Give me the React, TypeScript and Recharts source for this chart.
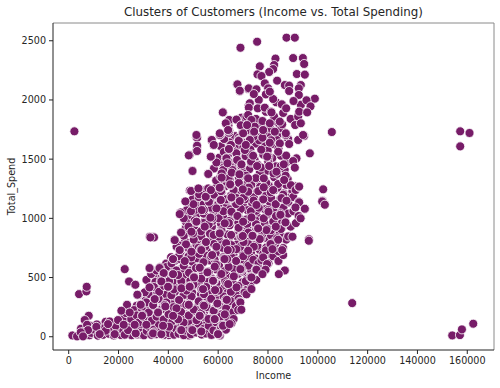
import React from "react";
import { ScatterChart, Scatter, XAxis, YAxis, ZAxis, ReferenceLine } from "recharts";

type P = [number, number];

const xTicks = [0, 20000, 40000, 60000, 80000, 100000, 120000, 140000, 160000];
const yTicks = [0, 500, 1000, 1500, 2000, 2500];

const coreA: P[] = [[63200,1712],[66700,1695],[69800,1726],[73400,1704],[76900,1688],[80300,1718],[83800,1697],[61100,1608],[64600,1642],[68100,1615],[71700,1598],[75200,1631],[78800,1609],[82400,1627],[60400,1512],[63900,1534],[67500,1503],[71000,1526],[74600,1497],[78100,1538],[81700,1508],[85200,1529],[58300,1421],[61800,1448],[65400,1409],[68900,1433],[72500,1415],[76000,1452],[79600,1402],[83100,1439],[86700,1411],[61200,1295],[64700,1322],[68300,1344],[71800,1303],[75400,1328],[78900,1291],[82500,1347],[86000,1309],[87900,1333],[50800,1207],[54300,1236],[57900,1198],[61400,1221],[65000,1189],[68500,1242],[72100,1204],[75600,1226],[79200,1193],[82700,1238],[86300,1211],[89800,1229],[48900,1108],[52400,1131],[56000,1094],[59500,1127],[63100,1102],[66600,1136],[70200,1097],[73700,1124],[77300,1089],[80800,1133],[84400,1106],[87900,1129]];
const coreB: P[] = [[47800,1012],[51300,1033],[54900,996],[58400,1027],[62000,1008],[65500,1039],[69100,991],[72600,1021],[76200,1003],[79700,1036],[83300,994],[86800,1018],[46900,914],[50400,936],[54000,897],[57500,929],[61100,908],[64600,941],[68200,893],[71700,923],[75300,905],[78800,938],[82400,899],[85900,927],[46700,808],[50200,832],[53800,796],[57300,823],[60900,803],[64400,837],[68000,791],[71500,819],[75100,806],[78600,834],[82200,797],[84500,825],[44800,712],[48300,736],[51900,699],[55400,727],[59000,705],[62500,739],[66100,694],[69600,723],[73200,708],[76700,733],[79400,698],[39100,618],[42600,641],[46200,603],[49700,632],[53300,609],[56800,644],[60400,597],[63900,628],[67500,613],[71000,638],[74600,601],[36200,509],[39700,533],[43300,496],[46800,524],[50400,503],[53900,537],[57500,491],[61000,519],[64600,507],[68100,531],[71700,494],[73400,522]];
const coreC: P[] = [[33800,412],[37300,436],[40900,398],[44400,427],[48000,404],[51500,439],[55100,393],[58600,421],[62200,409],[65700,433],[69300,396],[71800,424],[30900,308],[34400,331],[38000,295],[41500,322],[45100,301],[48600,336],[52200,291],[55700,318],[59300,306],[62800,329],[66400,293],[67900,321],[25800,204],[29300,227],[32900,191],[36400,218],[40000,198],[43500,232],[47100,187],[50600,214],[54200,203],[57700,226],[61300,189],[64800,217],[11300,104],[14800,126],[18400,91],[21900,118],[25500,97],[29000,131],[32600,86],[36100,113],[39700,102],[43200,124],[46800,88],[50300,116],[53900,99],[57400,127],[61000,93],[62300,112],[4900,68],[8600,92],[12300,54],[15900,83],[19600,62],[24200,44],[28700,81],[33200,53],[38900,59],[42700,38],[47600,82],[51700,49],[55900,63],[59600,77]];
const coreD: P[] = [[64100,1785],[70800,1808],[74100,1778],[77400,1795],[80900,1759],[84300,1801],[62400,1670],[65900,1574],[69400,1647],[72900,1581],[76400,1659],[79900,1573],[83500,1662],[59300,1472],[62700,1382],[66200,1465],[69700,1389],[73200,1471],[76700,1383],[80200,1462],[83700,1376],[87200,1468],[59300,1263],[62800,1270],[66300,1278],[69800,1262],[73300,1284],[76800,1266],[80300,1277],[83800,1259],[87300,1283],[90800,1271],[49800,1163],[53300,1168],[56800,1159],[60300,1175],[63800,1158],[67300,1172],[70800,1161],[74300,1178],[77800,1156],[81300,1169],[84800,1163],[88300,1174],[47300,1068],[50800,1072],[54300,1059],[57800,1073],[61300,1063],[64800,1076],[68300,1058],[71800,1069],[75300,1064],[78800,1077],[82300,1061],[85800,1066],[47100,968],[50600,983],[54100,961],[57600,975],[61100,956],[64600,979],[68100,964],[71600,953],[75100,981],[78600,959],[82100,973],[85600,962],[46200,853],[49700,866],[53200,849],[56700,871],[60200,846],[63700,864],[67200,852],[70700,869],[74200,847],[77700,862],[81200,856],[84700,868],[44300,771],[47800,754],[51300,778],[54800,762],[58300,783],[61800,751],[65300,774],[68800,759],[72300,781],[75800,768],[79300,753],[82800,776]];
const coreE: P[] = [[41100,672],[44600,657],[48100,679],[51600,663],[55100,684],[58600,651],[62100,672],[65600,668],[69100,654],[72600,677],[75100,660],[38200,568],[41700,552],[45200,574],[48700,559],[52200,578],[55700,547],[59200,569],[62700,556],[66200,575],[69700,551],[73200,567],[34800,463],[38300,447],[41800,468],[45300,453],[48800,473],[52300,442],[55800,462],[59300,451],[62800,469],[66300,444],[69800,461],[72900,449],[32100,361],[35600,374],[39100,356],[42600,379],[46100,352],[49600,371],[53100,358],[56600,376],[60100,349],[63600,368],[67100,354],[70600,373],[27300,262],[30800,248],[34300,269],[37800,253],[41300,274],[44800,245],[48300,263],[51800,251],[55300,272],[58800,243],[62300,266],[65800,257],[22700,151],[26200,166],[29700,147],[33200,172],[36700,144],[40200,163],[43700,152],[47200,174],[50700,141],[54200,168],[57700,156],[61200,161],[64700,148],[9900,35],[14100,22],[17600,66],[21300,31],[25100,70],[28900,18],[32600,42],[36300,73],[40100,14],[44200,40],[48300,11],[52100,66],[56400,42],[60700,11]];

const bottomBand: P[] = [[5200,18],[6100,44],[8300,12],[9100,32],[10200,60],[11700,9],[12900,41],[13800,16],[14600,78],[16100,25],[17300,58],[18100,11],[19200,39],[20300,72],[21000,14],[21900,48],[23100,28],[24300,80],[25200,13],[26100,55],[27400,19],[28300,66],[29100,34],[30200,12],[31300,49],[32200,85],[33200,16],[34300,62],[35100,21],[36200,108],[37100,44],[38200,15],[39100,76],[40200,31],[41100,118],[42300,17],[43200,64],[44100,26],[45300,96],[46200,13],[47100,52],[48200,128],[49100,21],[50300,74],[51200,35],[52100,110],[53400,18],[54200,68],[55100,27],[56200,92],[57300,15],[58100,54],[59200,122],[60100,36],[61200,78],[62100,130],[63100,60]];
const lowBand: P[] = [[20100,130],[22100,160],[23000,200],[25100,150],[26200,225],[27300,180],[28100,120],[29300,240],[30100,165],[31100,290],[32100,205],[33300,135],[34100,260],[35300,170],[36100,320],[37200,230],[38100,145],[39200,290],[40100,190],[41200,350],[42100,250],[43100,160],[44300,310],[45100,210],[46100,120],[47200,270],[48200,180],[49300,340],[50200,230],[51300,140],[52200,300],[53100,200],[54300,360],[55300,250],[56100,150],[57200,320],[58200,220],[59300,380],[60300,270],[61100,170],[62200,340],[63200,240],[64100,160],[65200,300],[66100,210],[67100,260],[68200,320],[66200,150]];
const midBand: P[] = [[31200,480],[33100,530],[34200,420],[35200,560],[36300,380],[37300,500],[38300,430],[39300,590],[40300,470],[41300,620],[42200,400],[43200,560],[44200,680],[45200,470],[46200,600],[47300,390],[48300,540],[49200,670],[50100,440],[51100,580],[52300,700],[53200,490],[54100,630],[55200,420],[56300,550],[57100,680],[58300,470],[59100,610],[60200,390],[61300,530],[62300,660],[63300,450],[64200,590],[65100,380],[66300,510],[67200,640],[68100,430],[69200,560],[70100,680],[71100,470],[72200,600],[73300,510],[74100,650],[75300,480],[76200,620],[77100,560],[78100,700],[80200,620],[82100,680],[84200,640],[86100,690]];
const upperMidBand: P[] = [[43300,760],[45100,880],[46200,1000],[47100,780],[48100,930],[49100,1060],[50200,820],[51300,970],[52100,750],[53100,890],[54200,1040],[55100,800],[56200,950],[57200,1090],[58200,860],[59300,760],[60200,1000],[61300,900],[62100,1060],[63200,790],[64300,960],[65200,860],[66100,1040],[67300,740],[68200,920],[69100,1080],[70200,800],[71300,990],[72100,880],[73100,1060],[74300,760],[75200,950],[76300,1090],[77200,830],[78300,1000],[79200,730],[80100,1070],[81200,900],[82300,800],[83200,1020],[84300,720],[85200,910],[86200,1090],[87300,820],[88100,1040],[89100,930],[90200,1060],[91200,960],[92300,1020],[93100,1000]];
const highBand: P[] = [[50100,1120],[52200,1180],[54200,1120],[55300,1210],[56300,1140],[58300,1200],[59200,1320],[60100,1120],[61200,1230],[62300,1430],[63100,1160],[64200,1340],[65100,1470],[66200,1240],[67200,1120],[68300,1300],[69300,1440],[70300,1180],[71200,1360],[72300,1260],[73200,1480],[74200,1150],[75100,1340],[76100,1230],[77200,1430],[78100,1160],[79300,1300],[80100,1480],[81100,1220],[82200,1380],[83100,1120],[84100,1290],[85100,1440],[86100,1200],[87100,1360],[88200,1140],[89200,1280],[90100,1180],[91100,1240]];
const topBand: P[] = [[62300,1560],[65100,1620],[67300,1550],[68200,1680],[69300,1850],[70100,1600],[71300,1740],[72200,1950],[73300,1540],[74200,1690],[75200,1840],[76300,2000],[77300,1580],[78200,1730],[79200,1900],[80200,1520],[81300,1660],[82100,1820],[83300,1980],[84200,1590],[85300,1760],[86100,1890],[87300,1530],[88100,1670],[89100,1840],[92100,1860],[93200,1960]];

const crownTop: P[] = [[68947,2441],[75640,2492],[87425,2526],[90770,2526],[83000,2349],[90100,2354],[93990,2354],[94520,2304],[76710,2284],[82470,2295],[82070,2261],[80460,2236],[75780,2216],[77380,2202],[91580,2219],[94790,2214],[83675,2163],[67740,2132],[68680,2078],[72300,2098],[78720,2140],[75370,2090],[80060,2098],[86760,2126],[88500,2121],[93180,2126],[92380,2098],[88500,2076],[92380,2042],[74310,2050],[79140,2047],[82070,2008],[80730,2070],[98800,2011],[95460,1997],[97070,1946],[90240,1991],[85550,1963],[87290,1929],[92520,1901],[95720,1895],[72700,1972],[72300,1935],[75910,1929],[78720,1935],[81130,1901],[82470,1859],[61850,1895],[64400,1831],[63050,1803],[67340,1834],[69080,1786],[72030,1873],[73360,1831],[77780,1822],[74700,1774],[71620,1788],[80730,1803],[85690,1794],[90900,1788],[93180,1803],[60640,1718],[63990,1746],[70020,1718],[74440,1732],[78050,1746],[82740,1732],[87160,1718],[94100,1704],[51270,1704],[81400,1895],[84750,1817]];
const crownMid: P[] = [[51270,1684],[51540,1605],[51270,1569],[57300,1662],[58230,1619],[60910,1704],[64400,1723],[64400,1583],[57030,1518],[63050,1507],[48600,1535],[68280,1662],[72700,1662],[77780,1681],[80730,1639],[87160,1704],[84750,1633],[88500,1628],[94520,1695],[92110,1662],[96800,1549],[91440,1507],[90100,1484],[90770,1428],[86350,1456],[74030,1529],[79660,1521],[84080,1563],[70690,1577],[67340,1487],[75640,1442],[80460,1442],[83400,1394],[68410,1374],[72030,1338],[78320,1338],[64930,1281],[60910,1352],[65730,1408],[61980,1408],[49660,1403],[55960,1377],[86490,1324],[82070,1239],[78320,1262],[72030,1225],[65330,1177],[60910,1259],[56890,1245],[52340,1203],[55020,1183],[48600,1234],[92380,1267],[85420,1169],[102150,1245],[102560,1121],[101880,1149],[92380,1141],[91040,1093],[94790,1079],[61050,1155],[75370,1113],[68680,1146],[53410,1070],[59300,1084],[65330,1056],[80190,1056],[85020,1042],[87020,964],[67740,1020],[73360,1008],[56890,1006],[51270,972],[62650,958],[70020,972],[76050,916],[79660,913],[83140,930],[54620,930],[60640,873],[69880,851],[74030,851],[88360,851],[83680,831],[96400,823],[49260,887]];
const lowerBody: P[] = [[33870,845],[32530,845],[42440,820],[44580,732],[41900,656],[32530,577],[36550,586],[37890,541],[41640,527],[32530,417],[26500,442],[30520,375],[27850,352],[28920,274],[34540,318],[35880,206],[29590,183],[26910,29],[34140,37],[37220,20],[38560,268],[40160,423],[36950,470],[43910,521],[46590,639],[49270,718],[53020,738],[57570,690],[63600,656],[65070,735],[72030,727],[74040,853],[68950,845],[77390,648],[75110,569],[69350,572],[72970,501],[67350,417],[64000,445],[58640,592],[52620,583],[55700,544],[50340,507],[57970,473],[53290,403],[48600,428],[45250,409],[58770,394],[71360,358],[63060,316],[68690,296],[59580,276],[53960,268],[48330,274],[43250,240],[52620,178],[58640,150],[62660,189],[68020,226],[43910,147],[65340,113],[61720,99],[49270,62],[53020,43],[44850,57],[60250,20],[40300,85],[33870,268]];
const leftFringe: P[] = [[22480,571],[24220,467],[26760,439],[27560,355],[23410,270],[28900,270],[21140,220],[24490,205],[29440,177],[4150,360],[7090,383],[7225,422],[8030,177],[6420,141],[7360,101],[7760,56],[11100,84],[1470,11],[3340,3],[4820,37],[5750,3],[14850,51],[18870,93],[16460,129],[19800,141],[15790,107],[12440,22],[18460,22],[22480,17],[23820,56],[26890,28],[22080,101],[26490,101],[31170,101],[33850,28],[37200,22],[37860,93],[41880,177],[38800,256],[35860,205],[34520,318],[32440,417],[32440,580],[36450,580],[38130,538],[41880,529],[44550,732],[42550,816],[41880,656],[34250,839],[32780,839],[44960,1050],[44550,1036],[46830,1143],[37200,467],[39870,422],[45220,56],[49640,56],[53250,45],[59940,22],[61950,93],[64620,107],[58600,149],[52580,177],[48170,270],[53920,402],[48570,422],[50310,501],[57940,473],[63460,312],[68900,290],[69300,228],[59680,281],[54310,262],[68900,571],[62540,656],[63880,732],[53250,732],[69300,844],[60610,881],[49900,873],[57630,1002],[54250,1070],[67590,1022],[60880,1154],[65290,1171],[54970,1177]];
const rightFringe: P[] = [[92510,1135],[91030,1092],[94780,1081],[101750,1143],[102820,1115],[85410,1171],[87420,1149],[85000,1030],[87020,966],[88090,847],[89830,845],[96390,811],[84070,819],[81000,783],[86080,749],[81800,740],[85680,732],[79380,901],[76040,915],[76710,825],[73760,853],[78050,670],[79650,614],[79000,566],[75370,566],[77780,529],[86750,560],[84340,529],[73360,501],[73360,403],[92510,1268]];
const upperLeft: P[] = [[67610,2129],[68680,2073],[72030,2092],[61980,1895],[64400,1831],[63320,1797],[67610,1831],[69080,1783],[71360,1859],[64400,1741],[60640,1704],[51540,1681],[57430,1662],[58240,1620],[51540,1614],[51540,1569],[48200,1532],[57030,1521],[64300,1586],[68280,1656],[71090,1620],[63320,1507],[63720,1465],[67610,1493],[69350,1456],[49700,1400],[56030,1375],[61410,1380],[65430,1386],[68540,1372],[61410,1344],[64810,1287],[49130,1231],[52080,1253],[56030,1253],[57100,1239],[60610,1259],[69890,1245]];
const outliers: P[] = [[2280,1735],[105620,1729],[157160,1735],[160900,1721],[157160,1608],[113800,284],[153970,11],[157050,14],[157850,62],[162400,110]];

const allPoints: P[] = [...coreA, ...coreB, ...coreC, ...coreD, ...coreE, ...bottomBand, ...lowBand, ...midBand, ...upperMidBand, ...highBand, ...topBand, ...lowerBody, ...leftFringe, ...crownMid, ...rightFringe, ...upperLeft, ...crownTop, ...outliers];
const table = allPoints.map(([Income, Total_Spend]) => ({ Income, Total_Spend }));

const font = "'DejaVu Sans', sans-serif";
const ink = "#262626";
const tick = { fontSize: 9.6, fill: ink, fontFamily: font };

export default function App() {
  return (
    <div style={{ position: "absolute", left: 0, top: 0, width: 500, height: 388, background: "#fff" }}>
      <div style={{ position: "absolute", left: 53, width: 441, top: 5, textAlign: "center", fontFamily: font, fontSize: 11.85, color: ink, whiteSpace: "nowrap" }}>
        Clusters of Customers (Income vs. Total Spending)
      </div>
      <ScatterChart width={500} height={388} margin={{ top: 23, right: 6, bottom: 0, left: 0 }} data={table}>
        <XAxis
          type="number"
          dataKey="Income"
          domain={[-6310, 170730]}
          ticks={xTicks}
          interval={0}
          height={38}
          allowDataOverflow
          tick={tick}
          tickSize={4}
          tickMargin={3}
          stroke="#222"
          label={{ value: "Income", position: "insideBottom", offset: 9, style: { fontSize: 9.6, fill: ink, fontFamily: font } }}
        />
        <YAxis
          type="number"
          dataKey="Total_Spend"
          domain={[-112, 2650]}
          ticks={yTicks}
          interval={0}
          width={53}
          allowDataOverflow
          tick={tick}
          tickSize={4}
          tickMargin={3}
          stroke="#222"
          label={{ value: "Total_Spend", angle: -90, position: "insideLeft", offset: 12, style: { fontSize: 9.6, fill: ink, fontFamily: font, textAnchor: "middle" } }}
        />
        <ZAxis range={[84, 84]} />
        <ReferenceLine x={170730} stroke="#8a8a8a" strokeWidth={1} />
        <ReferenceLine y={2650} stroke="#8a8a8a" strokeWidth={1} />
        <Scatter data={table} fill="#771c68" stroke="#ffffff" strokeWidth={0.8} isAnimationActive={false} />
      </ScatterChart>
    </div>
  );
}
